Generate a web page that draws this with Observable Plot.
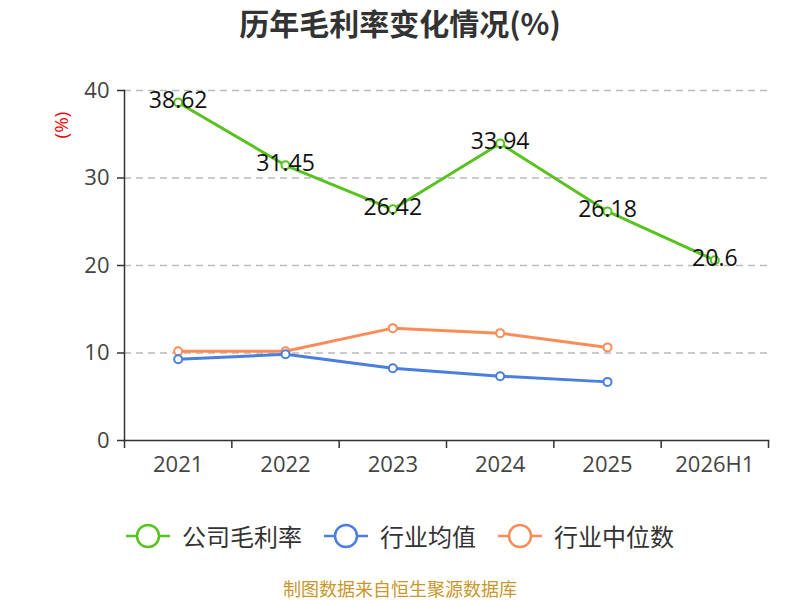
<!DOCTYPE html>
<html><head><meta charset="utf-8">
<script src="https://cdn.jsdelivr.net/npm/d3@7"></script>
<script src="https://cdn.jsdelivr.net/npm/@observablehq/plot@0.6"></script>
<style>
body{margin:0;width:800px;height:600px;position:relative;background:#fff;font-family:"Noto Sans CJK SC","Noto Sans",sans-serif;overflow:hidden}
#title{position:absolute;top:0px;left:0;width:800px;text-align:center;font-size:30px;font-weight:bold;color:#333;line-height:44px}
#chart{position:absolute;top:50px;left:0}
#ylab{position:absolute;left:48px;top:113px;color:#e00;font-size:19px;line-height:24px;transform:rotate(-90deg);transform-origin:center;z-index:2;font-family:"Open Sans",sans-serif}
#legend{position:absolute;top:518px;left:0;width:800px;display:flex;justify-content:center;gap:22px;font-size:24px;color:#333;line-height:36px}
#legend .it{display:flex;align-items:center;gap:12px}
#source{position:absolute;top:577px;left:0;width:800px;text-align:center;font-size:18px;color:#c9962b;line-height:22px}
</style></head>
<body>
<div id="title">历年毛利率变化情况(%)</div>
<div id="chart"></div>
<div id="ylab">(%)</div>
<div id="legend"></div>
<div id="source">制图数据来自恒生聚源数据库</div>
<script>
const years = ["2021","2022","2023","2024","2025","2026H1"];
const company = [38.62, 31.45, 26.42, 33.94, 26.18, 20.6];
const industryAvg = [9.28, 9.85, 8.26, 7.35, 6.70];
const industryMedian = [10.19, 10.2, 12.84, 12.27, 10.64];
const seriesNames = ["公司毛利率", "行业均值", "行业中位数"];
const colors = ["#58c21f", "#4a7fe0", "#fb8c58"];
const yTicks = [0, 10, 20, 30, 40];

const toRows = arr => arr.map((v, i) => ({i, v}));
const cRows = toRows(company), aRows = toRows(industryAvg), mRows = toRows(industryMedian);

const chart = Plot.plot({
  width: 800, height: 440,
  marginLeft: 124, marginRight: 32, marginTop: 40, marginBottom: 50,
  style: {fontFamily: '"Open Sans","Noto Sans CJK SC",sans-serif', color: "#333", background: "white"},
  x: {domain: [-0.5, years.length - 0.5]},
  y: {domain: [0, 40]},
  marks: [
    Plot.gridY(yTicks.slice(1), {stroke: "#bbb", strokeOpacity: 1, strokeDasharray: "7,5", strokeWidth: 1.3}),
    Plot.frame({anchor: "left", stroke: "#333", strokeWidth: 1.5}),
    Plot.frame({anchor: "bottom", stroke: "#333", strokeWidth: 1.5}),
    Plot.axisY({ticks: yTicks, tickSize: 7, tickPadding: 8, fontSize: 22, label: null, stroke: "#333", strokeWidth: 1.5, fill: "#444"}),
    Plot.axisX({ticks: d3.range(years.length), tickSize: 0, tickPadding: 16, tickFormat: i => years[i], fontSize: 22, label: null, fill: "#444"}),
    Plot.axisX({ticks: d3.range(years.length + 1).map(i => i - 0.5), tickSize: 8, tickFormat: () => "", label: null, stroke: "#333", strokeWidth: 1.5}),
    Plot.line(mRows, {x: "i", y: "v", stroke: colors[2], strokeWidth: 3}),
    Plot.line(aRows, {x: "i", y: "v", stroke: colors[1], strokeWidth: 3}),
    Plot.line(cRows, {x: "i", y: "v", stroke: colors[0], strokeWidth: 3}),
    Plot.dot(mRows, {x: "i", y: "v", r: 4, fill: "white", stroke: colors[2], strokeWidth: 2}),
    Plot.dot(aRows, {x: "i", y: "v", r: 4, fill: "white", stroke: colors[1], strokeWidth: 2}),
    Plot.dot(cRows, {x: "i", y: "v", r: 4, fill: "white", stroke: colors[0], strokeWidth: 2}),
    Plot.text(cRows, {x: "i", y: "v", text: d => String(d.v), dy: -2, fontSize: 23, fill: "#111"})
  ]
});
document.getElementById("chart").appendChild(chart);

const legend = document.getElementById("legend");
seriesNames.forEach((name, k) => {
  const it = document.createElement("div");
  it.className = "it";
  it.innerHTML = `<svg width="44" height="26"><line x1="0" y1="13" x2="44" y2="13" stroke="${colors[k]}" stroke-width="2.5"/><circle cx="22" cy="13" r="11" fill="white" stroke="${colors[k]}" stroke-width="2.5"/></svg><span>${name}</span>`;
  legend.appendChild(it);
});
</script>
</body></html>
